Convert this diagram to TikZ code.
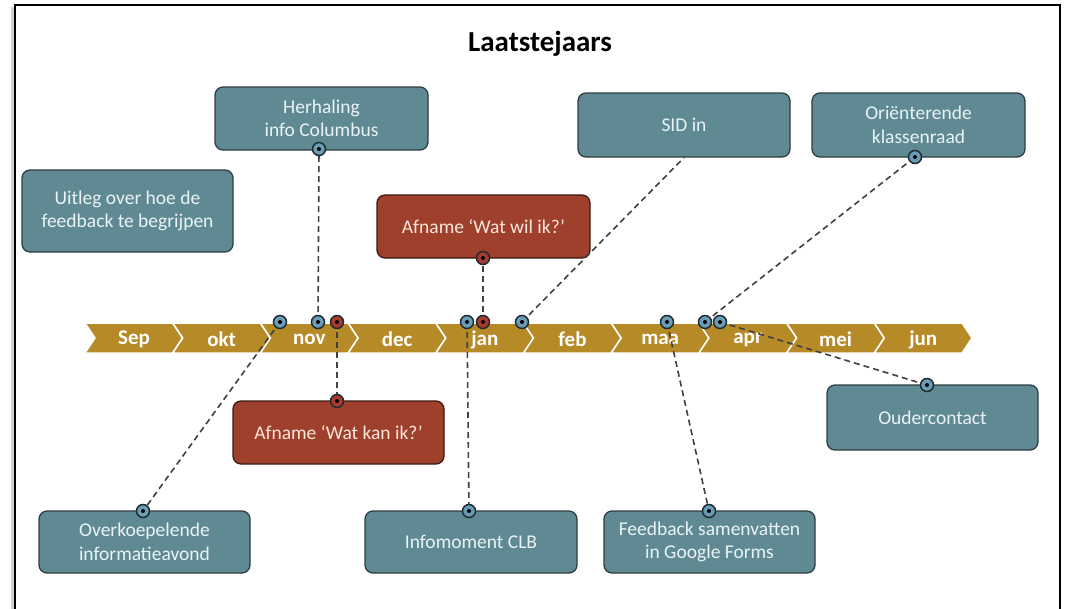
\documentclass[tikz,border=0pt]{standalone}
\usepackage{fontspec}
\setmainfont{Carlito}
\definecolor{tealfill}{HTML}{608A93}
\definecolor{tealline}{HTML}{2E3D41}
\definecolor{tealtext}{HTML}{EAF3F5}
\definecolor{redfill}{HTML}{9E402C}
\definecolor{redline}{HTML}{3A1A12}
\definecolor{redtext}{HTML}{FBE6DC}
\definecolor{gold}{HTML}{B78A28}
\definecolor{dotblue}{HTML}{6B9CB5}
\definecolor{dotred}{HTML}{A83B2E}
\definecolor{dotline}{HTML}{1E2B30}
\definecolor{connc}{HTML}{404040}
\tikzset{
  boxbase/.style={rounded corners=8pt, line width=1.3pt, align=center,
    font=\fontsize{19.5}{23.5}\selectfont, inner sep=0pt},
  tealbox/.style={boxbase, draw=tealline, fill=tealfill, text=tealtext},
  redbox/.style={boxbase, draw=redline, fill=redfill, text=redtext},
  dotbase/.style={circle, draw=dotline, line width=1.5pt, minimum size=13pt, inner sep=0pt,
    path picture={\fill[black] (path picture bounding box.center) circle (2pt);}},
  bdot/.style={dotbase, fill=dotblue},
  rdot/.style={dotbase, fill=dotred},
  conn/.style={draw=connc, line width=1.6pt, dash pattern=on 6pt off 4pt},
  chev/.style={fill=gold, draw=white, line width=1.5pt, line join=miter},
  month/.style={text=white, font=\fontsize{21}{25}\selectfont\bfseries}
}
\begin{document}
\begin{tikzpicture}[x=1pt,y=-1pt]
\useasboundingbox (0,0) rectangle (1068,608);
% frame
\draw[black!18, line width=3pt] (12,620) -- (12,7);
\draw[black, line width=2pt] (15,620) -- (15,5) -- (1060,5) -- (1060,620);
% title
\node[font=\fontsize{29}{34}\selectfont\bfseries] (title) at (540,44) {Laatstejaars};
% timeline chevrons
\foreach \i/\m in {0/Sep,1/okt,2/nov,3/dec,4/jan,5/feb,6/maa,7/apr,8/mei,9/jun}{
  \pgfmathsetmacro{\xa}{85+87.7*\i}
  \pgfmathsetmacro{\xb}{\xa+87.7}
  \draw[chev] (\xa,323) -- (\xb,323) -- (\xb+10,338) -- (\xb,353) -- (\xa,353) -- (\xa+10,338) -- cycle;
  \node[month] (m\i) at (\xa+49,339.5) {\m};
}
% boxes
\node[tealbox, minimum width=213pt, minimum height=63pt] (herh) at (321.5,118.5) {Herhaling\\info Columbus};
\node[tealbox, minimum width=211pt, minimum height=82pt] (uitleg) at (127.5,211) {Uitleg over hoe de\\feedback te begrijpen};
\node[redbox, minimum width=213pt, minimum height=63pt] (wil) at (483.5,226.5) {Afname ‘Wat wil ik?’};
\node[tealbox, minimum width=212pt, minimum height=64pt] (sid) at (684,125) {SID in};
\node[tealbox, minimum width=213pt, minimum height=64pt] (orient) at (918.5,125) {Oriënterende\\klassenraad};
\node[redbox, minimum width=211pt, minimum height=63pt] (kan) at (338.5,432.5) {Afname ‘Wat kan ik?’};
\node[tealbox, minimum width=211pt, minimum height=65pt] (ouder) at (932.5,417.5) {Oudercontact};
\node[tealbox, minimum width=211pt, minimum height=62pt] (overk) at (144.5,542) {Overkoepelende\\informatieavond};
\node[tealbox, minimum width=212pt, minimum height=62pt] (info) at (471,542) {Infomoment CLB};
\node[tealbox, minimum width=211pt, minimum height=62pt] (feed) at (709.5,542) {Feedback samenvatten\\in Google Forms};
% timeline dot positions
\coordinate (c1) at (280,322);
\coordinate (c2) at (318,322);
\coordinate (c3) at (337,322);
\coordinate (c4) at (467,322);
\coordinate (c5) at (483,322);
\coordinate (c6) at (522,322);
\coordinate (c7) at (667,322);
\coordinate (c8) at (705,322);
\coordinate (c9) at (720,322);
% box dot positions
\coordinate (bh) at (319,149);
\coordinate (bw) at (483,258);
\coordinate (bo) at (915,157);
\coordinate (bk) at (337,401);
\coordinate (bu) at (927,385);
\coordinate (bv) at (143,511);
\coordinate (bi) at (469,511);
\coordinate (bf) at (709,511);
% connectors
\draw[conn] (c1) -- (bv);
\draw[conn] (c2) -- (bh);
\draw[conn] (c3) -- (bk);
\draw[conn] (c4) -- (bi);
\draw[conn] (c5) -- (bw);
\draw[conn] (c6) -- (sid.south);
\draw[conn] (c7) -- (bf);
\draw[conn] (c8) -- (bo);
\draw[conn] (c9) -- (bu);
% dots
\node[bdot] (t1) at (c1) {};
\node[bdot] (t2) at (c2) {};
\node[rdot] (t3) at (c3) {};
\node[bdot] (t4) at (c4) {};
\node[rdot] (t5) at (c5) {};
\node[bdot] (t6) at (c6) {};
\node[bdot] (t7) at (c7) {};
\node[bdot] (t8) at (c8) {};
\node[bdot] (t9) at (c9) {};
\node[bdot] (dh) at (bh) {};
\node[rdot] (dw) at (bw) {};
\node[bdot] (do) at (bo) {};
\node[rdot] (dk) at (bk) {};
\node[bdot] (du) at (bu) {};
\node[bdot] (dv) at (bv) {};
\node[bdot] (di) at (bi) {};
\node[bdot] (df) at (bf) {};
\end{tikzpicture}
\end{document}
